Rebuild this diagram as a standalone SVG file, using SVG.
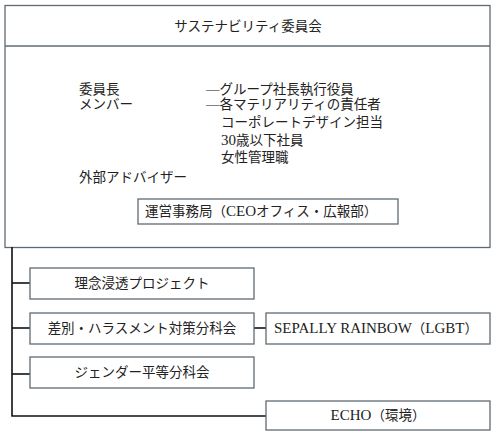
<svg xmlns="http://www.w3.org/2000/svg" width="496" height="437" viewBox="0 0 496 437">
<style>
.box{fill:#fff;stroke:#5f6b73;stroke-width:1.3}
.ln{stroke:#111;stroke-width:1.6;fill:none}
text{font-family:"Liberation Serif","Noto Sans CJK JP",serif;font-size:13.5px;fill:#222}
.c{text-anchor:middle}
.l{font-size:15px}
</style>
<rect width="496" height="437" fill="#fff"/>
<g id="committee">
<rect class="box" x="5" y="5.5" width="485" height="242"/>
<line x1="5" y1="46" x2="490" y2="46" stroke="#5f6b73" stroke-width="1.3"/>
<text class="c" x="248" y="31">サステナビリティ委員会</text>
<text x="79" y="94">委員長</text>
<text x="79" y="109">メンバー</text>
<text x="79" y="182">外部アドバイザー</text>
<text x="206" y="94"><tspan dy="-1.5">―</tspan><tspan dy="1.5">グループ社長執行役員</tspan></text>
<text x="206" y="109"><tspan dy="-1.5">―</tspan><tspan dy="1.5">各マテリアリティの責任者</tspan></text>
<text x="221" y="127">コーポレートデザイン担当</text>
<text x="221" y="145"><tspan class="l">30</tspan>歳以下社員</text>
<text x="221" y="162">女性管理職</text>
</g>
<g id="office">
<rect class="box" x="138" y="199" width="260" height="25"/>
<text x="145" y="216">運営事務局（<tspan class="l">CEO</tspan>オフィス・広報部）</text>
</g>
<g id="connectors">
<polyline class="ln" points="12,247 12,416 266,416"/>
<line class="ln" x1="12" y1="283" x2="30" y2="283"/>
<line class="ln" x1="12" y1="328" x2="30" y2="328"/>
<line class="ln" x1="12" y1="374" x2="30" y2="374"/>
<line class="ln" x1="254" y1="328" x2="266" y2="328"/>
</g>
<g id="rinen">
<rect class="box" x="30" y="268" width="224" height="31"/>
<text class="c" x="142" y="288">理念浸透プロジェクト</text>
</g>
<g id="harassment">
<rect class="box" x="30" y="313" width="224" height="31"/>
<text class="c" x="142" y="333">差別・ハラスメント対策分科会</text>
</g>
<g id="gender">
<rect class="box" x="30" y="357" width="224" height="31"/>
<text class="c" x="142" y="377">ジェンダー平等分科会</text>
</g>
<g id="sepally">
<rect class="box" x="266" y="313" width="224" height="31"/>
<text class="c" x="376" y="333"><tspan class="l">SEPALLY RAINBOW</tspan>（<tspan class="l">LGBT</tspan>）</text>
</g>
<g id="echo">
<rect class="box" x="266" y="401" width="224" height="29"/>
<text class="c" x="378" y="420"><tspan class="l">ECHO</tspan>（環境）</text>
</g>
</svg>
